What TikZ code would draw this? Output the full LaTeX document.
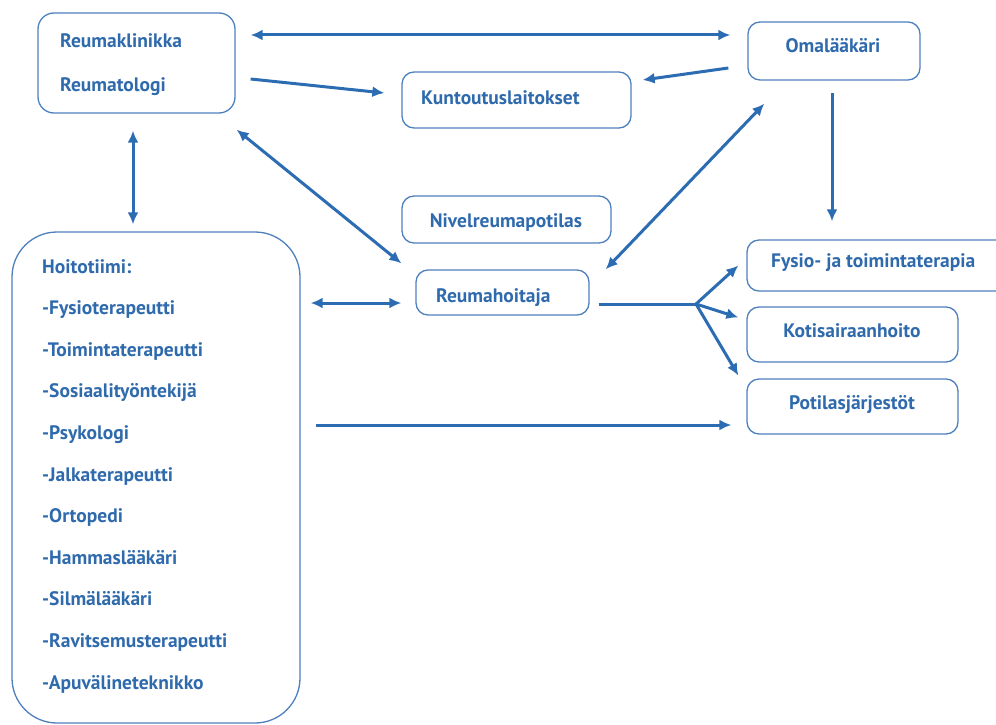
\documentclass[tikz,border=0pt]{standalone}
\usepackage{fontspec}
\setmainfont{PT Sans}
\usetikzlibrary{arrows.meta,calc}
\definecolor{linkblue}{RGB}{44,108,178}
\definecolor{textblue}{RGB}{47,106,172}
\definecolor{frameblue}{RGB}{78,128,190}
\tikzset{
  box/.style={draw=frameblue, line width=1.3pt, rounded corners=12pt, inner sep=0pt},
  lbl/.style={text=textblue, font=\fontsize{19.5}{22}\selectfont\bfseries, inner sep=0pt},
  tip/.style={Latex[length=12pt,width=11pt]},
  arr/.style={draw=linkblue, line width=3pt, -{Latex[length=12pt,width=11pt]}},
  darr/.style={draw=linkblue, line width=3pt, {Latex[length=12pt,width=11pt]}-{Latex[length=12pt,width=11pt]}},
  plain/.style={draw=linkblue, line width=3pt}
}
\begin{document}
\begin{tikzpicture}[x=1pt,y=-1pt]
\useasboundingbox (0,0) rectangle (996,725);

% boxes
\node[box, rounded corners=16pt, minimum width=197pt, minimum height=100pt] (klinikka) at (136.5,63) {};
\node[box, minimum width=172pt, minimum height=58pt] (omal) at (834,51) {};
\node[box, minimum width=229pt, minimum height=56pt] (kunto) at (516.5,100) {};
\node[box, minimum width=209pt, minimum height=47pt] (nivel) at (506.5,219.5) {};
\node[box, minimum width=173pt, minimum height=45pt] (hoitaja) at (502.5,292.5) {};
\node[box, minimum width=263pt, minimum height=51pt] (fysio) at (878.5,265.5) {};
\node[box, minimum width=211pt, minimum height=55pt] (koti) at (852.5,334.5) {};
\node[box, minimum width=211pt, minimum height=55pt] (potilas) at (852.5,406.5) {};
\node[box, rounded corners=45pt, minimum width=288pt, minimum height=491pt] (tiimi) at (156,477.5) {};

% labels
\node[lbl, anchor=base west] (t1) at (60,48) {Reumaklinikka};
\node[lbl, anchor=base west] (t2) at (60,92) {Reumatologi};
\node[lbl, anchor=base] (t3) at (833,53) {Omalääkäri};
\node[lbl, anchor=base west] (t4) at (421,104) {Kuntoutuslaitokset};
\node[lbl, anchor=base] (t5) at (506,227) {Nivelreumapotilas};
\node[lbl, anchor=base west] (t6) at (436,302) {Reumahoitaja};
\node[lbl, anchor=base west] (t7) at (771,267) {Fysio- ja toimintaterapia};
\node[lbl, anchor=base] (t8) at (852,337) {Kotisairaanhoito};
\node[lbl, anchor=base] (t9) at (852,409) {Potilasjärjestöt};
\foreach \txt [count=\i from 0] in {Hoitotiimi:, -Fysioterapeutti, -Toimintaterapeutti,
    -Sosiaalityöntekijä, -Psykologi, -Jalkaterapeutti, -Ortopedi, -Hammaslääkäri,
    -Silmälääkäri, -Ravitsemusterapeutti, -Apuvälineteknikko}
  \node[lbl, anchor=base west] (m\i) at (42,273+41.6*\i) {\txt};

% connectors
\draw[darr] ([shift={(15,-28)}]klinikka.east) -- ([shift={(-17,-16)}]omal.west);
\draw[arr] ([shift={(15,16)}]klinikka.east) -- ([shift={(-17,-7)}]kunto.west);
\draw[arr] ([shift={(-19,17)}]omal.west) -- ([shift={(11,-20)}]kunto.east);
\draw[darr] ([shift={(-3.5,17)}]klinikka.south) -- ([shift={(-23,-7)}]tiimi.north);
\draw[darr] ([shift={(1,16)}]klinikka.south east) -- ([shift={(-14,-6)}]hoitaja.north west);
\draw[darr] ([shift={(17,23)}]omal.south west) -- ([shift={(16,0)}]hoitaja.north east);
\draw[arr] ([shift={(-2,12)}]omal.south) -- ([shift={(-46.5,-18)}]fysio.north);
\draw[darr] ([shift={(10,-174.5)}]tiimi.east) -- ([shift={(-14,10.5)}]hoitaja.west);
\coordinate (fork) at (696,304);
\draw[plain] ([shift={(9,11.5)}]hoitaja.east) -- (fork);
\draw[arr] (fork) -- ([shift={(-8,0)}]fysio.west);
\draw[arr] (fork) -- ([shift={(-8,-17)}]koti.west);
\draw[arr] (fork) -- ([shift={(-8,-31)}]potilas.west);
\draw[arr] ([shift={(15,-52.5)}]tiimi.east) -- ([shift={(-15,18.5)}]potilas.west);
\end{tikzpicture}
\end{document}
